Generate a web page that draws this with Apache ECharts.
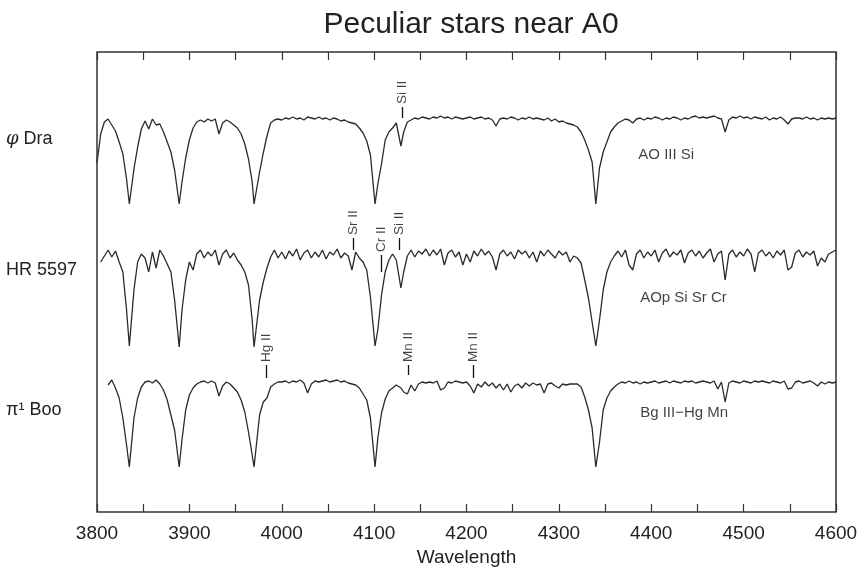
<!DOCTYPE html>
<html>
<head>
<meta charset="utf-8">
<script src="https://cdn.jsdelivr.net/npm/echarts@6/dist/echarts.min.js"></script>
<style>html,body{margin:0;padding:0;background:#fff}#c{width:863px;height:574px}</style>
</head>
<body>
<div id="c"></div>
<script>
// Wavelength grid (Angstrom)
const wavelength = [
3800,3804,3808,3812,3816,3820,3824,3828,3832,3835,
3840,3844,3848,3852,3856,3860,3864,3868,3872,3876,
3880,3884,3889,3892,3896,3900,3904,3908,3912,3916,
3920,3924,3928,3932,3936,3940,3944,3948,3952,3956,
3960,3964,3968,3970,3976,3980,3984,3988,3992,3996,
4000,4004,4008,4012,4016,4020,4024,4028,4032,4036,
4040,4044,4048,4052,4056,4060,4064,4068,4072,4076,
4080,4084,4088,4092,4096,4101,4104,4108,4112,4116,
4120,4124,4129,4132,4136,4140,4144,4148,4152,4156,
4160,4164,4168,4172,4176,4180,4184,4188,4192,4196,
4200,4204,4208,4212,4216,4220,4224,4228,4232,4236,
4240,4244,4248,4252,4256,4260,4264,4268,4272,4276,
4280,4284,4288,4292,4296,4300,4304,4308,4312,4316,
4320,4324,4328,4332,4336,4340,4344,4348,4352,4356,
4360,4364,4368,4372,4376,4380,4384,4388,4392,4396,
4400,4404,4408,4412,4416,4420,4424,4428,4432,4436,
4440,4444,4448,4452,4456,4460,4464,4468,4472,4476,
4480,4484,4488,4492,4496,4500,4504,4508,4512,4516,
4520,4524,4528,4532,4536,4540,4544,4548,4552,4556,
4560,4564,4568,4572,4576,4580,4584,4588,4592,4596,
4600];

// Relative intensity (offset stacked) for each star
const phiDra = [
34.9,37.8,39.0,39.3,38.7,38.1,37.0,35.8,33.3,30.8,
34.3,36.5,38.3,39.1,38.3,39.3,38.7,38.8,38.0,37.0,
36.0,34.2,30.8,33.0,35.4,37.2,38.4,39.0,39.2,39.0,
39.3,39.1,39.3,37.8,38.9,39.2,39.0,38.7,38.4,37.8,
36.8,35.3,33.0,30.8,34.0,35.9,37.6,38.9,39.2,39.3,
39.2,39.4,39.3,39.5,39.3,39.4,39.2,39.5,39.4,39.3,
39.5,39.3,39.4,39.2,39.4,39.3,39.1,39.2,39.0,38.9,
38.8,38.4,37.9,37.1,35.7,30.8,32.8,34.8,37.2,38.0,
38.4,38.9,36.6,38.0,39.0,39.2,39.4,39.3,39.5,39.4,
39.3,39.5,39.4,39.6,39.4,39.5,39.3,39.5,39.4,39.3,
39.4,39.5,39.3,39.4,39.5,39.3,39.4,39.2,38.6,39.3,
39.4,39.3,39.5,39.4,39.2,39.4,39.3,39.5,39.3,39.4,
39.3,39.2,39.4,39.1,39.3,39.0,39.1,38.9,38.8,38.7,
38.5,38.0,37.2,36.2,35.0,30.8,34.4,36.0,37.0,38.0,
38.5,38.9,39.1,39.3,39.2,38.9,39.3,39.4,39.2,39.4,
39.3,39.5,39.4,39.2,39.4,39.3,39.5,39.4,39.2,39.4,
39.3,39.5,39.6,39.4,39.5,39.4,39.5,39.6,39.4,39.3,
38.0,39.2,39.5,39.4,39.6,39.4,39.5,39.3,39.5,39.4,
39.3,39.5,39.2,39.4,39.3,39.5,39.2,38.8,39.3,39.4,
39.4,39.3,39.5,39.3,39.4,39.2,39.4,39.3,39.4,39.3,
39.4];

const hr5597 = [
null,25.0,25.6,26.2,25.5,26.1,25.0,24.0,20.2,16.6,
22.2,25.0,25.8,25.4,24.0,26.0,24.4,26.2,25.6,24.8,
24.0,21.2,16.5,20.2,23.2,25.0,24.2,25.8,26.2,25.4,
26.0,25.6,26.2,24.7,25.8,26.2,25.4,25.9,25.2,24.7,
24.0,22.7,19.2,16.5,21.2,23.0,24.4,25.5,26.2,25.4,
26.0,25.3,26.1,25.6,26.3,25.2,25.9,26.2,25.4,26.0,
25.5,26.2,25.3,26.0,25.7,26.3,25.4,25.9,25.6,24.2,
26.0,25.4,25.0,24.2,21.5,16.6,18.2,21.7,24.0,25.2,
25.8,25.2,22.4,24.0,25.6,26.2,25.5,26.1,25.8,26.3,
25.6,26.2,25.7,26.3,24.7,25.9,26.2,25.5,26.0,24.7,
25.8,25.0,26.1,25.6,26.3,25.7,26.1,25.5,24.2,25.8,
26.2,25.6,26.0,25.3,26.2,25.8,26.1,25.4,26.0,25.0,
26.1,25.6,26.2,25.8,25.4,26.1,25.7,26.0,25.0,25.6,
25.4,24.9,23.2,21.4,19.0,16.6,19.2,22.2,24.0,25.0,
25.6,26.1,25.5,26.2,24.7,24.2,25.8,26.2,25.4,26.0,
25.6,26.2,25.0,25.9,26.3,25.5,26.0,25.7,26.2,24.9,
25.9,26.2,25.6,26.1,25.4,25.9,26.3,25.0,25.8,26.1,
23.2,25.8,26.2,25.5,26.0,25.6,26.3,25.8,24.0,25.9,
26.2,25.6,26.0,25.4,26.1,25.7,26.2,24.2,24.5,25.9,
26.2,25.5,26.0,25.7,26.1,24.6,25.4,25.0,25.8,26.0,
26.2];

const piBoo = [
null,null,null,12.7,13.2,12.4,11.4,9.4,6.7,4.5,
9.4,11.4,12.5,13.0,13.1,12.9,13.2,12.8,12.2,11.2,
9.7,8.2,4.5,7.2,10.2,11.7,12.4,12.8,13.0,13.1,
12.9,13.1,12.9,11.6,12.6,13.0,12.8,12.4,12.0,11.2,
10.0,8.0,5.7,4.5,9.7,11.0,11.4,12.5,12.8,13.0,
13.0,13.1,12.9,13.1,13.0,13.2,12.9,11.9,12.8,13.1,
13.0,13.1,13.2,13.0,13.1,13.2,13.0,13.1,12.9,12.8,
12.7,12.4,11.8,11.2,9.4,4.5,7.4,9.9,11.3,12.1,
12.4,12.7,12.4,12.0,11.8,12.7,12.1,12.8,13.0,12.9,
13.0,12.9,13.1,12.2,12.4,13.0,12.9,13.1,13.0,12.9,
13.0,12.6,11.9,12.8,12.5,13.0,12.6,12.9,12.4,12.8,
12.2,12.8,12.0,12.6,12.8,12.4,12.9,12.6,12.9,12.7,
12.8,11.9,12.8,12.9,12.6,12.4,12.8,12.7,12.8,12.8,
12.8,12.5,11.5,10.2,8.4,4.5,7.0,10.2,11.4,12.1,
12.5,12.8,13.0,12.9,13.1,12.9,13.0,12.8,13.0,12.9,
13.0,13.1,12.9,13.0,13.1,12.9,13.1,13.0,12.9,13.1,
13.0,13.1,12.9,13.0,13.1,13.0,12.9,13.1,12.3,13.0,
11.0,12.9,13.1,13.0,12.9,13.1,13.0,12.9,13.1,13.0,
13.1,13.0,12.9,13.1,13.0,12.9,13.1,12.3,12.4,13.0,
13.1,12.9,13.0,13.1,12.9,12.6,13.0,12.8,13.0,12.9,
13.0];

// Star names and their vertical level
const starNames = ['{it|φ} Dra', 'HR 5597', 'π¹ Boo'];
const starLevels = [37.3, 24.2, 10.2];

// Spectral classes
const classText = ['AO III Si', 'AOp Si Sr Cr', 'Bg III\u2212Hg Mn'];
const classWave = [4386, 4388, 4388];
const classLevel = [35.7, 21.4, 9.9];

// Line identifications
const lineText = ['Si II', 'Sr II', 'Cr II', 'Si II', 'Hg II', 'Mn II', 'Mn II'];
const lineWave = [4130, 4077, 4108, 4127, 3983, 4137, 4207];
const lineTop = [40.5, 27.4, 25.7, 27.4, 14.7, 14.7, 14.7];
const lineBottom = [39.4, 26.2, 24.0, 26.2, 13.4, 13.7, 13.4];

// X axis labels
const xTickLabels = [3800, 3900, 4000, 4100, 4200, 4300, 4400, 4500, 4600];

const FONT = 'Liberation Sans, Arial, Helvetica, sans-serif';
const chart = echarts.init(document.getElementById('c'), null, {renderer: 'canvas'});

const toPairs = arr => wavelength.map((w, i) => [w, arr[i]]);
const specLine = (name, arr) => ({
  name, type: 'line', data: toPairs(arr), showSymbol: false, symbol: 'none',
  connectNulls: false, silent: true,
  lineStyle: {color: '#2a2a2a', width: 1.3}
});

const tickCfg = {show: true, inside: true, length: 8, lineStyle: {color: '#333', width: 1.2}};

chart.setOption({
  animation: false,
  backgroundColor: '#fff',
  title: {
    text: 'Peculiar stars near A0', left: 466, top: 5, textAlign: 'center',
    textStyle: {fontFamily: FONT, fontSize: 30, fontWeight: 'normal', color: '#222'}
  },
  grid: {left: 97, right: 27, top: 52, bottom: 62, show: true, borderColor: '#333', borderWidth: 1.5, containLabel: false},
  xAxis: [{
    type: 'value', position: 'bottom', min: 3800, max: 4600, interval: 50,
    axisLine: {show: false}, splitLine: {show: false}, axisTick: tickCfg,
    axisLabel: {
      fontFamily: FONT, fontSize: 19, color: '#222', margin: 12,
      formatter: v => xTickLabels.indexOf(v) >= 0 ? String(v) : ''
    },
    name: 'Wavelength', nameLocation: 'middle', nameGap: 36,
    nameTextStyle: {fontFamily: FONT, fontSize: 19, color: '#222'}
  }, {
    type: 'value', position: 'top', min: 3800, max: 4600, interval: 50,
    axisLine: {show: false}, splitLine: {show: false}, axisTick: tickCfg,
    axisLabel: {show: false}
  }],
  yAxis: {
    type: 'value', min: 0, max: 46,
    axisLine: {show: false}, axisTick: {show: false}, splitLine: {show: false},
    axisLabel: {
      show: true, customValues: starLevels, align: 'left', margin: 91,
      fontFamily: FONT, fontSize: 18, color: '#222',
      formatter: v => starNames[starLevels.indexOf(v)] || '',
      rich: {it: {fontFamily: 'DejaVu Serif', fontStyle: 'italic', fontSize: 18, color: '#222'}}
    }
  },
  series: [
    specLine('phi Dra', phiDra),
    specLine('HR 5597', hr5597),
    specLine('pi1 Boo', piBoo),
    {
      type: 'scatter', silent: true, symbolSize: 0,
      data: lineWave.map((w, i) => [w, lineTop[i] + 0.3]),
      label: {
        show: true, position: [0, 0], rotate: 90, align: 'left', verticalAlign: 'middle',
        fontFamily: FONT, fontSize: 13.5, color: '#111',
        formatter: p => lineText[p.dataIndex]
      },
      markLine: {
        silent: true, symbol: 'none', animation: false,
        label: {show: false},
        lineStyle: {color: '#111', width: 1.3, type: 'solid'},
        data: lineWave.map((w, i) => [{coord: [w, lineTop[i]]}, {coord: [w, lineBottom[i]]}])
      }
    },
    {
      type: 'scatter', silent: true, symbolSize: 0,
      data: classWave.map((w, i) => [w, classLevel[i]]),
      label: {
        show: true, position: [0, 0], align: 'left', verticalAlign: 'middle',
        fontFamily: FONT, fontSize: 15, color: '#111',
        formatter: p => classText[p.dataIndex]
      }
    }
  ]
});
</script>
</body>
</html>
